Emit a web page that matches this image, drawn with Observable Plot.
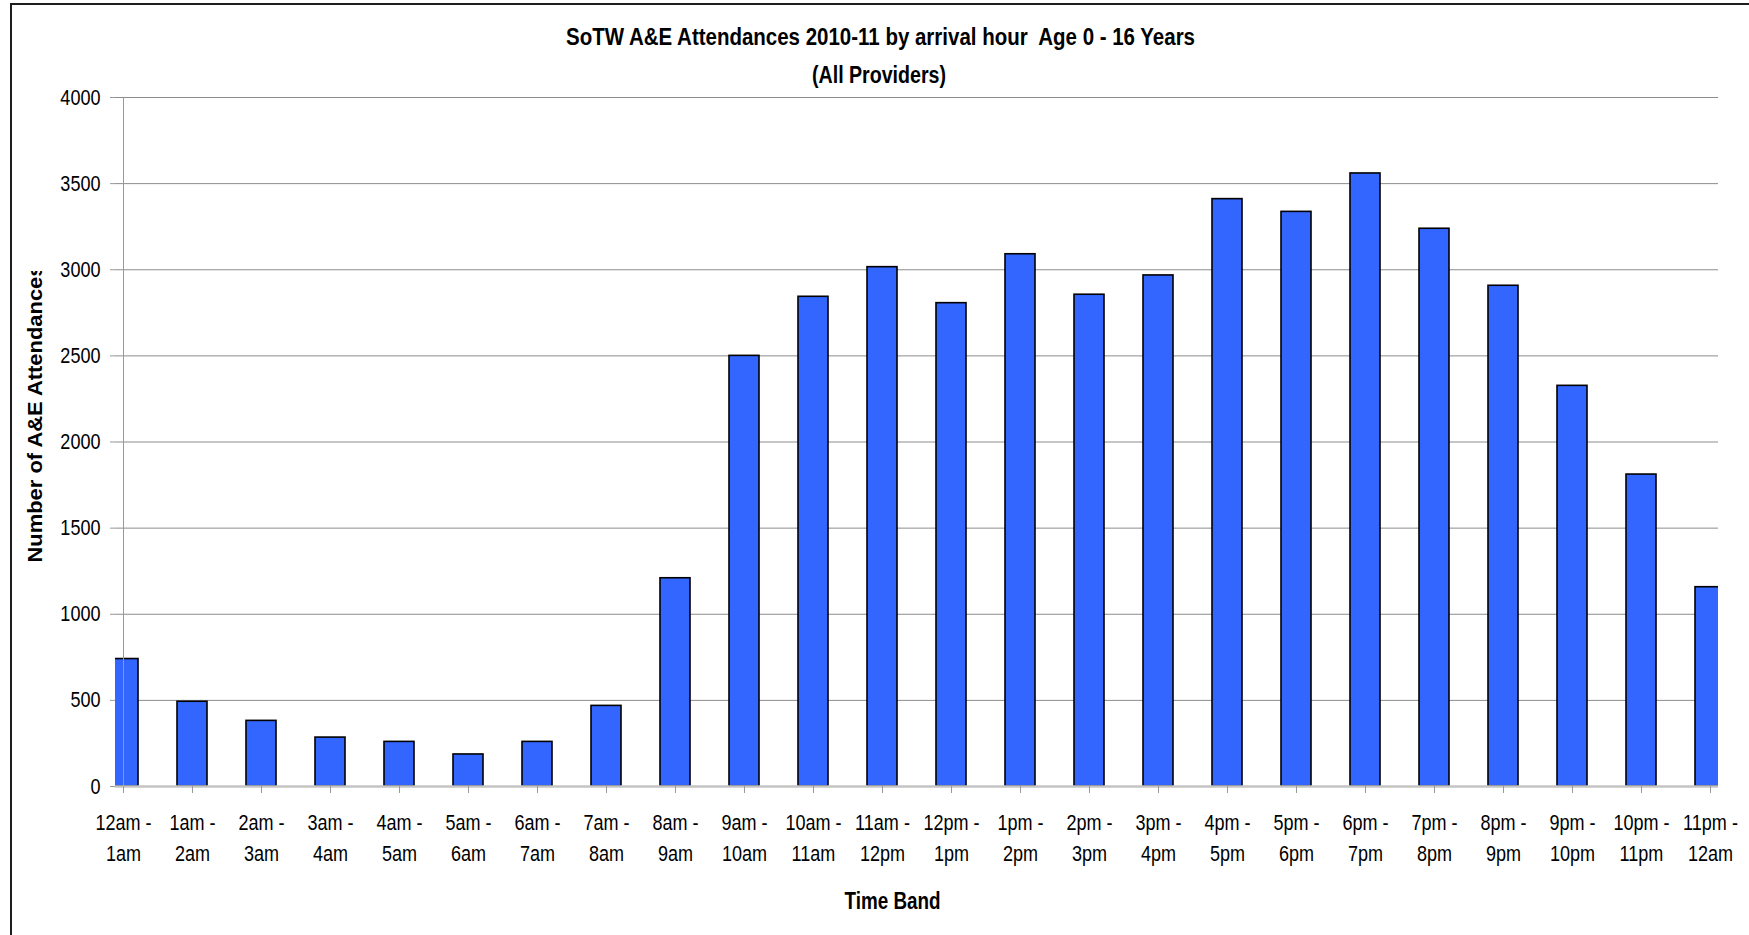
<!DOCTYPE html>
<html>
<head>
<meta charset="utf-8">
<script src="https://cdn.jsdelivr.net/npm/d3@7"></script>
<script src="https://cdn.jsdelivr.net/npm/@observablehq/plot@0.6"></script>
<style>
  html, body { margin: 0; padding: 0; background: #fff; overflow: hidden; }
  #chart { position: relative; width: 1749px; height: 935px; overflow: hidden; }
  #border { position: absolute; left: 10px; top: 3px; width: 1800px; height: 1000px;
            border: 2px solid #1e1e1e; pointer-events: none; }
  #chart svg { display: block; }
</style>
</head>
<body>
<div id="chart"><div id="border"></div></div>
<script>
// Arrival hour bands (start / end of each hour)
const startHours = ["12am", "1am", "2am", "3am", "4am", "5am", "6am", "7am", "8am", "9am", "10am", "11am",
                    "12pm", "1pm", "2pm", "3pm", "4pm", "5pm", "6pm", "7pm", "8pm", "9pm", "10pm", "11pm"];
const endHours = ["1am", "2am", "3am", "4am", "5am", "6am", "7am", "8am", "9am", "10am", "11am", "12pm",
                  "1pm", "2pm", "3pm", "4pm", "5pm", "6pm", "7pm", "8pm", "9pm", "10pm", "11pm", "12am"];

// A&E attendances, age 0-16, 2010-11, by arrival hour
const attendances = [740, 492, 381, 284, 259, 186, 259, 468, 1209, 2500, 2843, 3015,
                     2806, 3090, 2855, 2967, 3410, 3336, 3559, 3238, 2907, 2326, 1811, 1157];

const yTicks = [0, 500, 1000, 1500, 2000, 2500, 3000, 3500, 4000];

const titleLines = ["SoTW A&E Attendances 2010-11 by arrival hour  Age 0 - 16 Years", "(All Providers)"];
const xTitle = "Time Band";
const yTitle = "Number of A&E Attendances";

const SANS = "'Liberation Sans', Arial, sans-serif";

const bands = startHours.map((s, i) => `${s} - ${endHours[i]}`);
const rows = bands.map((band, i) => ({band, value: attendances[i]}));

const W = 1749, H = 935;
const mL = 115, mR = 31, mT = 97, mB = 149;
// band centres sit on the frame edges, so the first and last bars are half hidden
const step = (W - mL - mR) / (bands.length - 1);

const plot = Plot.plot({
  width: W,
  height: H,
  marginLeft: mL,
  marginRight: mR,
  marginTop: mT,
  marginBottom: mB,
  style: {fontFamily: SANS, fontSize: "22px", color: "#000", background: "transparent", overflow: "visible"},
  x: {type: "band", domain: bands, range: [mL - step / 2, W - mR + step / 2],
      paddingInner: 0.56, paddingOuter: 0.28, label: null},
  y: {domain: [0, 4000], label: null},
  marks: [
    Plot.gridY(yTicks.filter(d => d > 0), {stroke: "#8c8c8c", strokeOpacity: 1, strokeWidth: 1}),
    Plot.barY(rows, {x: "band", y: "value", fill: "#3366ff", stroke: "#000", strokeWidth: 1.6, clip: true}),
    Plot.ruleX([bands[0]], {y1: 0, y2: 4000, stroke: "#999", strokeWidth: 1}),
    Plot.ruleY([0], {stroke: "#c4c4c4", strokeWidth: 2.5}),
    Plot.axisY(yTicks, {tickSize: 5, tickPadding: 10, stroke: "#999", fontSize: 22,
                        tickFormat: d => String(d), label: null}),
    Plot.axisX({tickSize: 7, tickPadding: 14, lineHeight: 1.42, stroke: "#999", fontSize: 22,
                tickFormat: d => d.replace(" - ", " -\n"), label: null}),
    Plot.text(titleLines.slice(0, 1), {frameAnchor: "top", lineAnchor: "middle", dx: -36.5, dy: -60,
                                       fontWeight: "bold", fontSize: 23}),
    Plot.text(titleLines.slice(1), {frameAnchor: "top", lineAnchor: "middle", dx: -38, dy: -22,
                                    fontWeight: "bold", fontSize: 23}),
    Plot.text([xTitle], {frameAnchor: "bottom", lineAnchor: "middle", dx: -24.5, dy: 115,
                         fontWeight: "bold", fontSize: 23}),
    Plot.text([yTitle], {frameAnchor: "left", lineAnchor: "middle", rotate: -90, textAnchor: "start",
                         dx: -80, dy: 120.5, fontWeight: "bold", fontSize: 21})
  ]
});

document.getElementById("chart").appendChild(plot);

const svg = d3.select(plot);
const headings = [titleLines[0], titleLines[1], xTitle, yTitle];

// stretch the heading texts to their printed widths
const fit = (txt, len) => svg.selectAll("text")
  .filter(function () { return this.textContent === txt; })
  .attr("textLength", len).attr("lengthAdjust", "spacingAndGlyphs");
fit(titleLines[0], 629);
fit(titleLines[1], 134);
fit(xTitle, 96);
fit(yTitle, 298);

// tick labels are set in a condensed face: squeeze each one about its anchor
svg.selectAll("text")
  .filter(function () { return !headings.includes(this.textContent); })
  .each(function () {
    const t = this.getAttribute("transform") || "";
    this.setAttribute("transform", `${t} scale(0.82,1)`);
  });

// the vertical title is cut off where the chart area begins
svg.append("defs").append("clipPath").attr("id", "ytitle-clip")
  .append("rect").attr("x", 0).attr("y", 271).attr("width", mL).attr("height", H);
const clipGroup = svg.append("g").attr("clip-path", "url(#ytitle-clip)");
svg.selectAll("text")
  .filter(function () { return this.textContent === yTitle; })
  .each(function () { clipGroup.node().appendChild(this.parentNode); });
</script>
</body>
</html>
